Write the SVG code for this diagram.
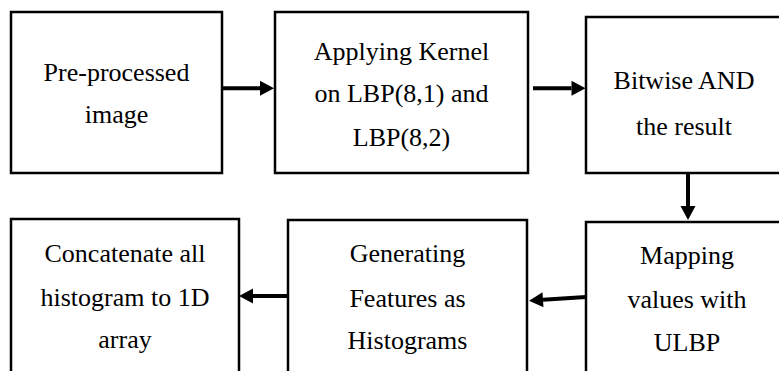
<svg xmlns="http://www.w3.org/2000/svg" width="779" height="371" viewBox="0 0 779 371">
<style>
.box{fill:#fff;stroke:#000;stroke-width:2.5}
text{font-family:'Liberation Serif','Times New Roman',Times,'Noto Serif','DejaVu Serif',FreeSerif,serif;font-size:26px;fill:#000;text-anchor:middle}
.c{stroke:#000;stroke-width:4;fill:none}
</style>
<defs>
<marker id="ah" markerUnits="userSpaceOnUse" markerWidth="15" markerHeight="16" refX="0" refY="7.5" orient="auto" overflow="visible">
<path d="M0,0 L14,7.5 L0,15 Z" fill="#000"/>
</marker>
</defs>
<rect width="779" height="371" fill="#fff"/>
<g id="n1">
<rect class="box" x="11" y="12" width="211" height="161"/>
<text x="116.5" y="81">Pre-processed</text>
<text x="116.5" y="123">image</text>
</g>
<g id="n2">
<rect class="box" x="275" y="12" width="253" height="161"/>
<text x="401.5" y="59.5">Applying Kernel</text>
<text x="401.5" y="101.5">on LBP(8,1) and</text>
<text x="401.5" y="145.5">LBP(8,2)</text>
</g>
<g id="n3">
<rect class="box" x="586" y="17" width="197" height="156"/>
<text x="684" y="89">Bitwise AND</text>
<text x="684" y="135">the result</text>
</g>
<g id="n4">
<rect class="box" x="586" y="222" width="197" height="160"/>
<text x="687" y="264">Mapping</text>
<text x="687" y="308">values with</text>
<text x="687" y="350.5">ULBP</text>
</g>
<g id="n5">
<rect class="box" x="288" y="220" width="239" height="160"/>
<text x="407.5" y="261.5">Generating</text>
<text x="407.5" y="306.5">Features as</text>
<text x="407.5" y="348.5">Histograms</text>
</g>
<g id="n6">
<rect class="box" x="11" y="219" width="228" height="160"/>
<text x="125" y="261.5">Concatenate all</text>
<text x="125" y="306">histogram to 1D</text>
<text x="125" y="348">array</text>
</g>
<g id="connectors">
<line class="c" x1="223" y1="88.3" x2="260" y2="88.3" marker-end="url(#ah)"/>
<line class="c" x1="533" y1="88.3" x2="571.5" y2="88.3" marker-end="url(#ah)"/>
<line class="c" x1="688" y1="174" x2="688" y2="206" marker-end="url(#ah)"/>
<line class="c" x1="586" y1="297" x2="543" y2="299.8" marker-end="url(#ah)"/>
<line class="c" x1="288" y1="296" x2="253" y2="296" marker-end="url(#ah)"/>
</g>
</svg>
